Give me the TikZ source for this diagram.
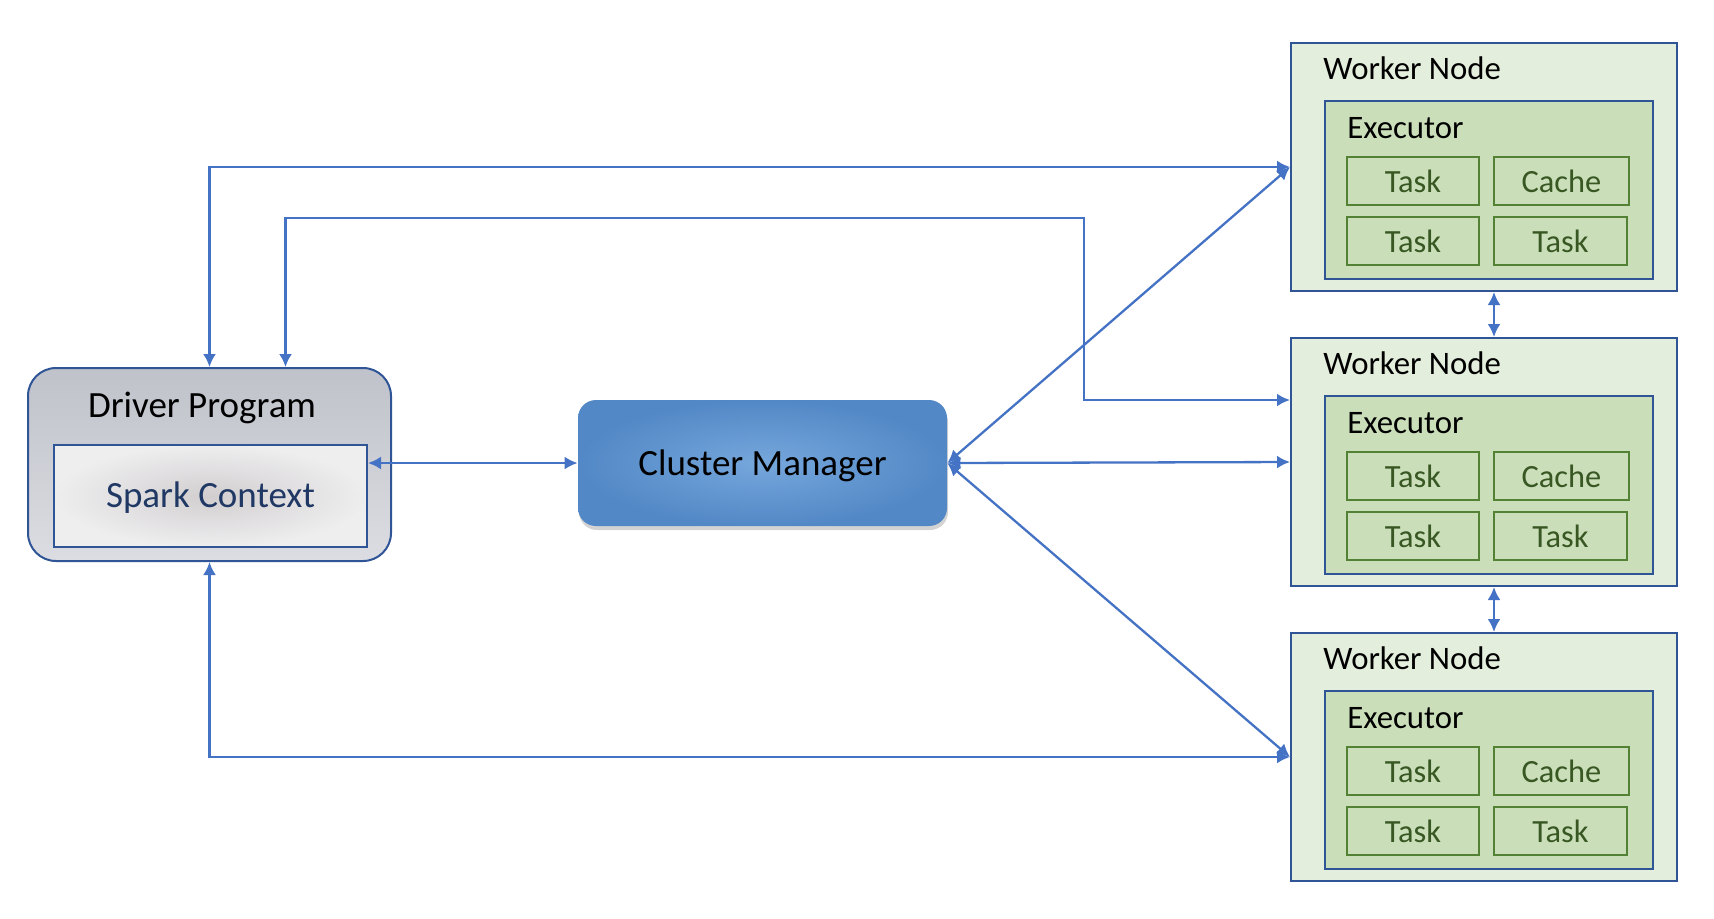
\documentclass[tikz,border=0pt]{standalone}
\usepackage{fontspec}
\setmainfont{Carlito}
\usetikzlibrary{arrows.meta,fit,shadows}
\definecolor{SPLine}{HTML}{4472C4}
\definecolor{SPBorder}{HTML}{2F5597}
\definecolor{SPWorker}{HTML}{E4EEDC}
\definecolor{SPExec}{HTML}{CADFB9}
\definecolor{SPTask}{HTML}{548235}
\definecolor{SPTaskText}{HTML}{385723}
\definecolor{SPNavy}{HTML}{203864}
\definecolor{DPTop}{HTML}{BFC2CA}
\definecolor{DPBottom}{HTML}{DCDDE2}
\definecolor{SCInner}{HTML}{D2CED0}
\definecolor{SCOuter}{HTML}{EEEEEF}
\definecolor{CMInner}{HTML}{76A7DC}
\definecolor{CMOuter}{HTML}{5288C6}

\begin{document}
\begin{tikzpicture}[
    x=0.5pt, y=-0.5pt,
    >={Latex[length=6.5pt,width=6.5pt]},
    link/.style      = {SPLine, line width=1.15pt, <->},
    driverbox/.style = {draw=SPBorder, line width=1pt, rounded corners=14pt,
                        top color=DPTop, bottom color=DPBottom, inner sep=0pt},
    contextbox/.style= {draw=SPBorder, line width=1pt, inner color=SCInner,
                        outer color=SCOuter, inner sep=0pt},
    managerbox/.style= {rounded corners=9pt, inner color=CMInner, outer color=CMOuter,
                        inner sep=0pt,
                        drop shadow={opacity=0.35, shadow xshift=0.5pt, shadow yshift=-2pt}},
    workerbox/.style = {draw=SPBorder, line width=1pt, fill=SPWorker, inner sep=0pt},
    execbox/.style   = {draw=SPBorder, line width=1pt, fill=SPExec, inner sep=0pt},
    taskbox/.style   = {draw=SPTask, line width=1pt, inner sep=0pt},
    big/.style       = {inner sep=0pt, font=\fontsize{18.5}{22}\selectfont},
    title/.style     = {inner sep=0pt, anchor=west, font=\fontsize{16.4}{19}\selectfont},
    tasktext/.style  = {inner sep=0pt, text=SPTaskText, font=\fontsize{16.2}{19}\selectfont},
  ]
\useasboundingbox (0,0) rectangle (1714,918);

% driver program
\node[driverbox, fit={(28,368) (391,561)}] (driver) {};
\node[big] (drivertitle) at (202,408) {Driver Program};
\node[contextbox, fit={(54,445) (367,547)}] (context) {};
\node[big, text=SPNavy] (contexttext) at ([yshift=-1pt]context.center) {Spark Context};

% cluster manager
\node[managerbox, fit={(578,400) (947,526)}] (manager) {};
\node[big] (managertext) at ([yshift=-1.5pt]manager.center) {Cluster Manager};

% worker nodes
\foreach \i/\y in {1/43,2/338,3/633}{
  \node[workerbox, fit={(1291,\y) (1677,\y+248)}] (W\i) {};
  \node[title] (WT\i) at (1323,\y+25) {Worker Node};
  \node[execbox, fit={(1325,\y+58) (1653,\y+236)}] (E\i) {};
  \node[title] (ET\i) at (1347,\y+85) {Executor};
  \node[taskbox, fit={(1347,\y+114) (1479,\y+162)}] (T\i-1) {};
  \node[taskbox, fit={(1494,\y+114) (1629,\y+162)}] (T\i-2) {};
  \node[taskbox, fit={(1347,\y+174) (1479,\y+222)}] (T\i-3) {};
  \node[taskbox, fit={(1494,\y+174) (1627,\y+222)}] (T\i-4) {};
  \node[tasktext] at (T\i-1.center) {Task};
  \node[tasktext] at (T\i-2.center) {Cache};
  \node[tasktext] at (T\i-3.center) {Task};
  \node[tasktext] at (T\i-4.center) {Task};
}

% driver <-> workers
\coordinate (bend) at (1084,218);
\draw[link] (driver.north) |- (W1.west);
\draw[link] ([xshift=38pt]driver.north) |- (bend) |- ([yshift=31pt]W2.west);
\draw[link] (driver.south) |- (W3.west);

% driver <-> cluster manager
\draw[link] (context.east |- manager.west) -- (manager.west);

% cluster manager <-> workers
\foreach \i in {1,2,3}
    \draw[link] (manager.east) -- (W\i.west);

% worker <-> worker
\draw[link] ([xshift=5pt]W1.south) -- ([xshift=5pt]W2.north);
\draw[link] ([xshift=5pt]W2.south) -- ([xshift=5pt]W3.north);

\end{tikzpicture}
\end{document}
